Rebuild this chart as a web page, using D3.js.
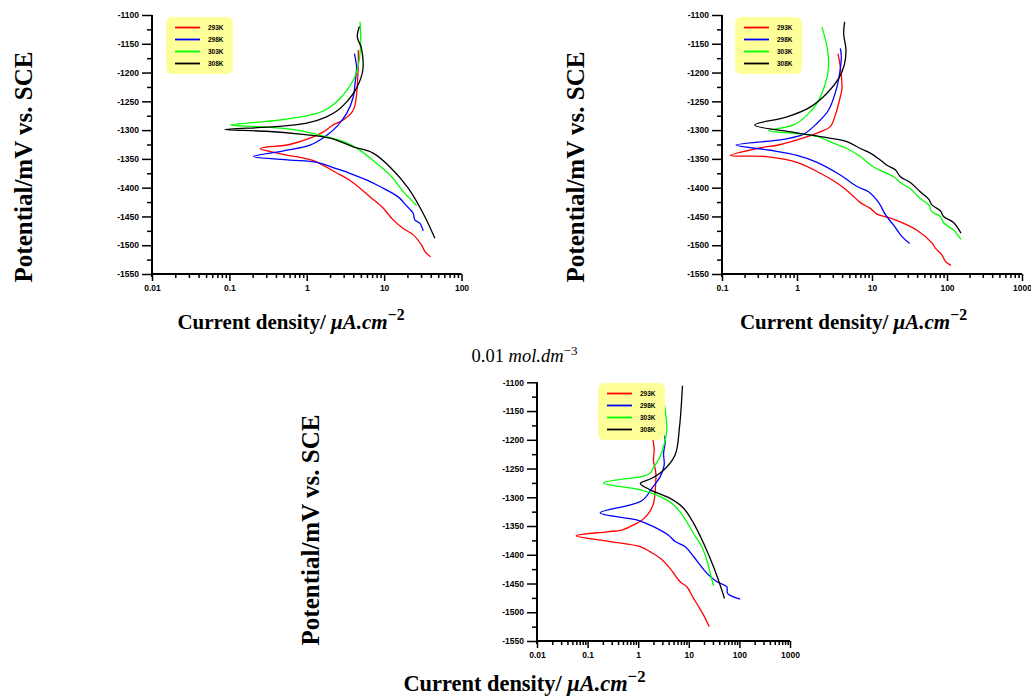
<!DOCTYPE html>
<html><head><meta charset="utf-8">
<script src="https://cdn.jsdelivr.net/npm/d3@7"></script>
<style>body{margin:0;background:#fff}svg{display:block}</style>
</head><body>
<svg id="chart" width="1031" height="697"></svg>
<script>
// ---------- data ----------
const temps = ["293K", "298K", "303K", "308K"];
const yTicks = [-1100, -1150, -1200, -1250, -1300, -1350, -1400, -1450, -1500, -1550];
const xTickLabels1 = ["0.01", "0.1", "1", "10", "100"];
const xTickLabels2 = ["0.1", "1", "10", "100", "1000"];
const xTickLabels3 = ["0.01", "0.1", "1", "10", "100", "1000"];
const concLabel = "0.01";

// panel 1 (top-left): [current density µA/cm2, potential mV]
const p1_293K = [[4.64,-1161],[4.6,-1200],[4.0,-1265],[2.9,-1283],[2.2,-1291],[1.6,-1304],[1.1,-1314],[0.6,-1325],[0.25,-1332],[0.5,-1342],[1.22,-1353],[2.4,-1374],[3.6,-1387],[6.6,-1416],[9.5,-1434],[13.1,-1456],[17.7,-1471],[23.8,-1482],[30.5,-1500],[33.7,-1511],[40,-1520]];
const p1_298K = [[4.12,-1167],[4.4,-1190],[4.2,-1220],[4.0,-1242],[3.28,-1271],[2.44,-1294],[1.73,-1311],[1.1,-1326],[0.5,-1336],[0.205,-1346],[0.6,-1352],[1.35,-1356],[2.4,-1367],[3.6,-1375],[6.0,-1387],[8.8,-1398],[15.2,-1416],[19,-1430],[23.8,-1445],[24.9,-1456],[29,-1462],[32,-1475]];
const p1_303K = [[4.88,-1112],[4.98,-1149],[4.64,-1187],[4.0,-1213],[2.69,-1245],[1.9,-1262],[1.35,-1271],[0.61,-1280],[0.3,-1285],[0.103,-1291],[0.227,-1294],[0.5,-1297],[0.82,-1301],[1.49,-1309],[3.0,-1320],[4.64,-1333],[8.0,-1358],[12.5,-1381],[17.7,-1407],[26.2,-1431]];
const p1_308K = [[4.78,-1120],[4.5,-1138],[5.1,-1158],[5.3,-1196],[4.4,-1227],[3.28,-1251],[2.5,-1266],[1.8,-1277],[1.0,-1288],[0.4,-1294],[0.088,-1299],[0.3,-1302],[0.82,-1307],[2.0,-1314],[4.0,-1329],[7.2,-1340],[11.9,-1364],[20.5,-1401],[32,-1445],[45.3,-1488]];

// panel 2 (top-right)
const p2_293K = [[3.52,-1167],[3.78,-1190],[3.98,-1227],[3.78,-1242],[3.24,-1274],[2.78,-1294],[2.05,-1303],[1.0,-1317],[0.6,-1325],[0.293,-1332],[0.129,-1344],[0.398,-1346],[1.0,-1356],[2.05,-1375],[3.41,-1392],[5.14,-1410],[7.0,-1426],[9.5,-1436],[11.7,-1446],[17.6,-1453],[26.4,-1462],[39.8,-1474],[63,-1496],[69.9,-1505],[85.8,-1517],[95,-1528],[113,-1535]];
const p2_298K = [[3.78,-1158],[3.9,-1172],[3.78,-1193],[3.41,-1225],[2.64,-1265],[1.85,-1288],[1.23,-1307],[0.66,-1316],[0.154,-1326],[0.44,-1335],[1.0,-1344],[1.85,-1356],[3.78,-1378],[6.3,-1398],[9.0,-1407],[12.3,-1426],[15.1,-1447],[19.4,-1465],[25.1,-1485],[31.8,-1497]];
const p2_303K = [[2.15,-1121],[2.51,-1155],[2.64,-1190],[2.39,-1219],[1.85,-1253],[1.36,-1274],[0.9,-1291],[0.42,-1301],[1.0,-1306],[1.85,-1311],[3.08,-1323],[4.64,-1332],[7.0,-1346],[10.5,-1364],[19.4,-1381],[23.9,-1391],[32.4,-1402],[44.1,-1419],[57,-1430],[63,-1442],[81.5,-1450],[90.3,-1461],[123,-1474],[153.6,-1490]];
const p2_308K = [[4.32,-1112],[4.19,-1132],[4.5,-1161],[4.27,-1187],[3.6,-1210],[2.51,-1236],[1.5,-1260],[0.736,-1277],[0.273,-1291],[0.9,-1304],[2.51,-1313],[4.64,-1320],[7.0,-1332],[9.5,-1340],[12.9,-1352],[15.8,-1361],[20.5,-1369],[23.9,-1381],[32.4,-1391],[44,-1407],[57,-1420],[63,-1430],[81.5,-1440],[90,-1450],[123,-1461],[153.6,-1479]];

// panel 3 (bottom)
const p3_293K = [[1.92,-1196],[2.07,-1218],[2.0,-1235],[2.23,-1258],[2.17,-1287],[2.0,-1311],[1.6,-1328],[1.18,-1340],[0.81,-1348],[0.475,-1357],[0.24,-1360],[0.0596,-1367],[0.28,-1377],[1.1,-1386],[1.73,-1395],[2.72,-1406],[4.29,-1424],[6.76,-1447],[9.2,-1456],[12.4,-1476],[15.6,-1490],[19.6,-1505],[25.3,-1525]];
const p3_298K = [[2.8,-1157],[2.94,-1177],[3.42,-1200],[3.17,-1224],[3.26,-1244],[2.72,-1264],[1.95,-1282],[1.18,-1306],[0.177,-1327],[1.0,-1340],[2.0,-1351],[3.98,-1366],[5.38,-1377],[8.5,-1386],[12.4,-1403],[22.7,-1432],[35.9,-1447],[56.6,-1456],[58.3,-1467],[103.7,-1477]];
const p3_303K = [[2.94,-1113],[3.17,-1128],[3.69,-1180],[3.42,-1200],[2.72,-1229],[1.95,-1250],[1.73,-1258],[1.27,-1263],[0.206,-1275],[1.1,-1287],[2.72,-1299],[5.0,-1313],[7.9,-1334],[12.4,-1363],[18.1,-1386],[22.7,-1409],[26.5,-1432],[30.8,-1454]];
const p3_308K = [[7.5,-1106],[7.08,-1142],[6.56,-1177],[5.38,-1226],[3.17,-1253],[1.86,-1267],[1.1,-1276],[1.73,-1287],[4.29,-1302],[7.9,-1319],[12.4,-1345],[19.6,-1380],[30.8,-1421],[41.7,-1453],[50.8,-1476]];

// ---------- styles / layout ----------
const colors = ["#ff0000", "#0000ff", "#00ff00", "#000000"];
const panels = [
  {left:152, right:461.5, top:15, bottom:274, xdom:[0.01,100], xlabels:xTickLabels1,
   series:[p1_293K,p1_298K,p1_303K,p1_308K], legend:{x:166,y:17},
   ytitle:{x:23,y:167,size:25}, xtitle:{x:291,y:329,size:21}},
  {left:722, right:1022, top:15, bottom:274, xdom:[0.1,1000], xlabels:xTickLabels2,
   series:[p2_293K,p2_298K,p2_303K,p2_308K], legend:{x:735,y:17},
   ytitle:{x:575,y:167,size:25}, xtitle:{x:853.5,y:329,size:21}},
  {left:537, right:790, top:382.3, bottom:641, xdom:[0.01,1000], xlabels:xTickLabels3,
   series:[p3_293K,p3_298K,p3_303K,p3_308K], legend:{x:598,y:383},
   ytitle:{x:310,y:530,size:25}, xtitle:{x:524.5,y:691,size:22.4}}
];

const svg = d3.select("#chart");
const tickFont = "'Liberation Sans', Arial, sans-serif";
const serif = "'Liberation Serif', 'Times New Roman', serif";

panels.forEach(p => {
  const g = svg.append("g");
  const x = d3.scaleLog().domain(p.xdom).range([p.left, p.right]);
  const y = d3.scaleLinear().domain([-1550, -1100]).range([p.bottom, p.top]);

  // minor y ticks
  const yMinor = d3.range(-1525, -1100, 50);
  g.append("g").attr("transform", `translate(${p.left},0)`)
    .call(d3.axisLeft(y).tickValues(yMinor).tickSize(5).tickFormat(""))
    .call(a => a.select(".domain").remove())
    .selectAll("line").attr("stroke-width", 1.5);
  // major y ticks
  const ya = g.append("g").attr("transform", `translate(${p.left},0)`)
    .call(d3.axisLeft(y).tickValues(yTicks).tickSize(10).tickPadding(3).tickFormat(d => String(d)));
  ya.select(".domain").attr("d", `M0,${p.top}V${p.bottom+3}`).attr("stroke-width", 2);
  ya.selectAll("line").attr("stroke-width", 1.5);
  ya.selectAll("text").attr("font-family", tickFont).attr("font-weight", "bold").attr("font-size", 8.5).attr("fill", "#000");

  // x ticks
  const decades = p.xlabels.map(Number);
  const minors = [];
  decades.slice(0, -1).forEach(d => { for (let k = 2; k <= 9; k++) minors.push(d * k); });
  g.append("g").attr("transform", `translate(0,${p.bottom})`)
    .call(d3.axisBottom(x).tickValues(minors).tickSize(4).tickFormat(""))
    .call(a => a.select(".domain").remove())
    .selectAll("line").attr("stroke-width", 1.5);
  const xa = g.append("g").attr("transform", `translate(0,${p.bottom})`)
    .call(d3.axisBottom(x).tickValues(decades).tickSize(7).tickPadding(4)
      .tickFormat((d, i) => p.xlabels[i]));
  xa.select(".domain").attr("d", `M${p.left},0H${p.right}`).attr("stroke-width", 2);
  xa.selectAll("line").attr("stroke-width", 1.5);
  xa.selectAll("text").attr("font-family", tickFont).attr("font-weight", "bold").attr("font-size", 8.5).attr("fill", "#000");

  // curves
  const line = d3.line().x(d => x(d[0])).y(d => y(d[1])).curve(d3.curveCatmullRom.alpha(0.5));
  p.series.forEach((s, i) => {
    g.append("path").datum(s).attr("d", line).attr("fill", "none")
      .attr("stroke", colors[i]).attr("stroke-width", 1.3);
  });

  // legend
  const lg = g.append("g").attr("transform", `translate(${p.legend.x},${p.legend.y})`);
  lg.append("rect").attr("width", 67).attr("height", 57).attr("rx", 6).attr("fill", "#ffff99");
  temps.forEach((t, i) => {
    const yy = 10.5 + i * 12;
    lg.append("line").attr("x1", 9).attr("x2", 34).attr("y1", yy).attr("y2", yy)
      .attr("stroke", colors[i]).attr("stroke-width", 1.8);
    lg.append("text").attr("x", 42).attr("y", yy).attr("dy", "0.35em")
      .attr("font-family", tickFont).attr("font-weight", "bold").attr("font-size", 6.5).text(t);
  });

  // y title
  svg.append("text").attr("transform", `translate(${p.ytitle.x},${p.ytitle.y}) rotate(-90)`)
    .attr("text-anchor", "middle").attr("dominant-baseline", "central")
    .attr("font-family", serif).attr("font-weight", "bold").attr("font-size", p.ytitle.size)
    .text("Potential/mV vs. SCE");

  // x title
  const xt = svg.append("text").attr("x", p.xtitle.x).attr("y", p.xtitle.y)
    .attr("text-anchor", "middle").attr("font-family", serif).attr("font-weight", "bold")
    .attr("font-size", p.xtitle.size);
  xt.append("tspan").text("Current density/ ");
  xt.append("tspan").attr("font-style", "italic").text("\u03bcA.cm");
  xt.append("tspan").attr("dy", -9).attr("font-size", p.xtitle.size * 0.75).text("\u22122");
});

// concentration label
const ct = svg.append("text").attr("x", 524.5).attr("y", 362).attr("text-anchor", "middle")
  .attr("font-family", serif).attr("font-size", 18.5);
ct.append("tspan").text(concLabel + " ");
ct.append("tspan").attr("font-style", "italic").text("mol.dm");
ct.append("tspan").attr("dy", -7).attr("font-size", 13).text("\u22123");
</script>
</body></html>
